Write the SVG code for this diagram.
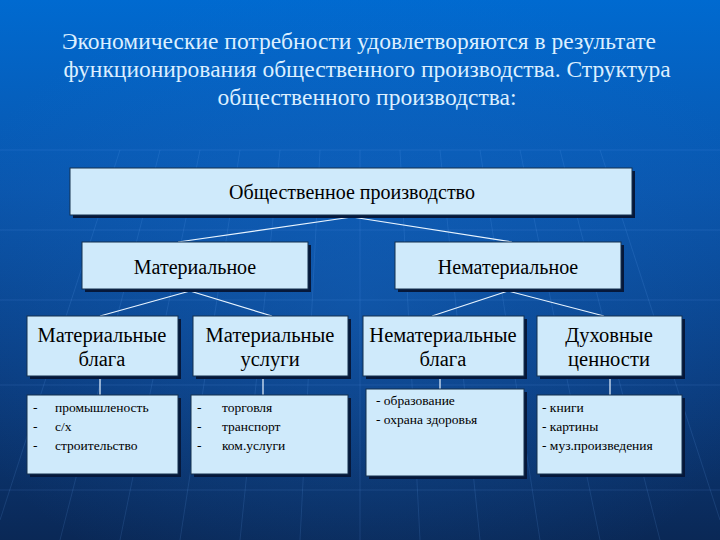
<svg xmlns="http://www.w3.org/2000/svg" width="720" height="540" viewBox="0 0 720 540">
<defs>
<linearGradient id="bg" x1="0" y1="0" x2="0" y2="1">
<stop offset="0" stop-color="#006ad0"/>
<stop offset="0.35" stop-color="#0a56ad"/>
<stop offset="0.7" stop-color="#0b3d80"/>
<stop offset="1" stop-color="#0a2856"/>
</linearGradient>
<radialGradient id="glow" cx="0.5" cy="0.55" r="0.6">
<stop offset="0" stop-color="#1a70d0" stop-opacity="0.35"/>
<stop offset="1" stop-color="#1a70d0" stop-opacity="0"/>
</radialGradient>
<style>
.box{fill:#cfeafb;stroke:#15304f;stroke-width:1}
.sh{fill:#06183a}
.c{stroke:#e8f4ff;stroke-width:1.2;fill:none}
.g{stroke:#6fb0ff;stroke-opacity:0.14;stroke-width:1;fill:none}
</style>
</defs>
<rect width="720" height="540" fill="url(#bg)"/>
<rect width="720" height="540" fill="url(#glow)"/>
<g class="g">
<path d="M0 150H720M0 230H720M0 300H720M0 385H720M0 490H720"/>
<path d="M360 540L360 150M300 540L320 150M240 540L280 150M180 540L240 150M120 540L200 150M60 540L160 150M420 540L400 150M480 540L440 150M540 540L480 150M600 540L520 150M660 540L560 150M0 520L120 150M720 520L600 150"/>
</g>
<text style="font-family:'Liberation Serif',serif;font-size:23.5px;fill:#dcefff;text-anchor:middle" x="359" y="49">Экономические потребности удовлетворяются в результате</text>
<text style="font-family:'Liberation Serif',serif;font-size:23.5px;fill:#dcefff;text-anchor:middle" x="367" y="77">функционирования общественного производства. Структура</text>
<text style="font-family:'Liberation Serif',serif;font-size:23.5px;fill:#dcefff;text-anchor:middle" x="367" y="105">общественного производства:</text>
<g id="connectors" class="c">
<path d="M352 217L178 242M352 217L512 242"/>
<path d="M190 291L100 316M190 291L272 316"/>
<path d="M508 291L432 316M508 291L604 316"/>
<path d="M100 376V395M263 376V395M440 376V389M610 376V395"/>
</g>
<g id="n-root"><rect class="sh" x="73" y="171" width="562" height="47"/><rect class="box" x="70" y="168" width="562" height="47"/><text style="font-family:'Liberation Serif',serif;font-size:20px;text-anchor:middle" x="352" y="199">Общественное производство</text></g>
<g id="n-mat"><rect class="sh" x="85" y="245" width="226" height="47"/><rect class="box" x="82" y="242" width="226" height="47"/><text style="font-family:'Liberation Serif',serif;font-size:20px;text-anchor:middle" x="195" y="274">Материальное</text></g>
<g id="n-nemat"><rect class="sh" x="398" y="245" width="226" height="47"/><rect class="box" x="395" y="242" width="226" height="47"/><text style="font-family:'Liberation Serif',serif;font-size:20px;text-anchor:middle" x="508" y="274">Нематериальное</text></g>
<g id="n-matblaga"><rect class="sh" x="30" y="319" width="151" height="60"/><rect class="box" x="27" y="316" width="151" height="60"/><text style="font-family:'Liberation Serif',serif;font-size:20.5px;text-anchor:middle" x="102" y="342">Материальные</text><text style="font-family:'Liberation Serif',serif;font-size:20.5px;text-anchor:middle" x="102" y="366">блага</text></g>
<g id="n-matusl"><rect class="sh" x="196" y="319" width="155" height="60"/><rect class="box" x="193" y="316" width="155" height="60"/><text style="font-family:'Liberation Serif',serif;font-size:20.5px;text-anchor:middle" x="270" y="342">Материальные</text><text style="font-family:'Liberation Serif',serif;font-size:20.5px;text-anchor:middle" x="270" y="366">услуги</text></g>
<g id="n-nematblaga"><rect class="sh" x="366" y="319" width="161" height="60"/><rect class="box" x="363" y="316" width="161" height="60"/><text style="font-family:'Liberation Serif',serif;font-size:20.5px;text-anchor:middle" x="443" y="342">Нематериальные</text><text style="font-family:'Liberation Serif',serif;font-size:20.5px;text-anchor:middle" x="443" y="366">блага</text></g>
<g id="n-duh"><rect class="sh" x="540" y="319" width="145" height="60"/><rect class="box" x="537" y="316" width="145" height="60"/><text style="font-family:'Liberation Serif',serif;font-size:20.5px;text-anchor:middle" x="609" y="342">Духовные</text><text style="font-family:'Liberation Serif',serif;font-size:20.5px;text-anchor:middle" x="609" y="366">ценности</text></g>
<g id="n-list1"><rect class="sh" x="30" y="398" width="151" height="79"/><rect class="box" x="27" y="395" width="151" height="79"/><text style="font-family:'Liberation Serif',serif;font-size:13.5px" x="33" y="412">-</text><text style="font-family:'Liberation Serif',serif;font-size:13.5px" x="55" y="412">промышленость</text><text style="font-family:'Liberation Serif',serif;font-size:13.5px" x="33" y="431">-</text><text style="font-family:'Liberation Serif',serif;font-size:13.5px" x="55" y="431">с/х</text><text style="font-family:'Liberation Serif',serif;font-size:13.5px" x="33" y="450">-</text><text style="font-family:'Liberation Serif',serif;font-size:13.5px" x="55" y="450">строительство</text></g>
<g id="n-list2"><rect class="sh" x="194" y="398" width="157" height="79"/><rect class="box" x="191" y="395" width="157" height="79"/><text style="font-family:'Liberation Serif',serif;font-size:13.5px" x="197" y="412">-</text><text style="font-family:'Liberation Serif',serif;font-size:13.5px" x="222" y="412">торговля</text><text style="font-family:'Liberation Serif',serif;font-size:13.5px" x="197" y="431">-</text><text style="font-family:'Liberation Serif',serif;font-size:13.5px" x="222" y="431">транспорт</text><text style="font-family:'Liberation Serif',serif;font-size:13.5px" x="197" y="450">-</text><text style="font-family:'Liberation Serif',serif;font-size:13.5px" x="222" y="450">ком.услуги</text></g>
<g id="n-list3"><rect class="sh" x="369" y="392" width="158" height="87"/><rect class="box" x="366" y="389" width="158" height="87"/><text style="font-family:'Liberation Serif',serif;font-size:13.5px" x="376" y="405">- образование</text><text style="font-family:'Liberation Serif',serif;font-size:13.5px" x="376" y="424">- охрана здоровья</text></g>
<g id="n-list4"><rect class="sh" x="540" y="398" width="145" height="79"/><rect class="box" x="537" y="395" width="145" height="79"/><text style="font-family:'Liberation Serif',serif;font-size:13.5px" x="542" y="412">- книги</text><text style="font-family:'Liberation Serif',serif;font-size:13.5px" x="542" y="431">- картины</text><text style="font-family:'Liberation Serif',serif;font-size:13.5px" x="542" y="450">- муз.произведения</text></g>
</svg>
